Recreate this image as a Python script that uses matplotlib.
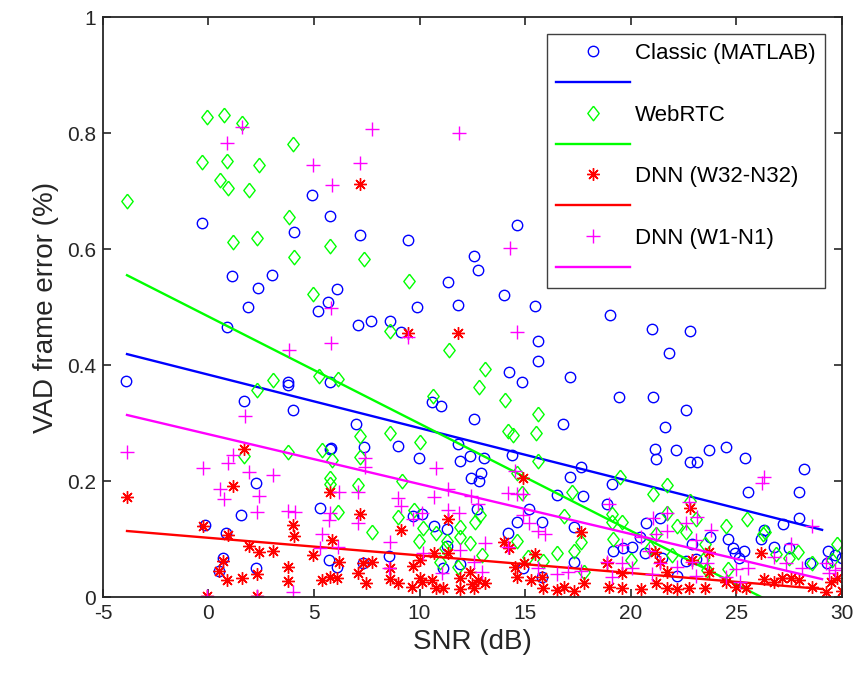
import numpy as np
import matplotlib
matplotlib.use("Agg")
import matplotlib.pyplot as plt

plt.rcParams['font.family'] = ['Liberation Sans', 'DejaVu Sans']
plt.rcParams['axes.unicode_minus'] = False

# --- data (SNR in dB, VAD frame error) ---
classic_snr = [-3.9, -0.3, -0.17, 0.82, 0.68, 0.49, 2.24, 1.53, 2.24, 5.3, 5.74, 5.7, 6.1,
               4.9, 5.74, 4.04, 1.1, 3.0, 2.34, 1.86, 6.07, 5.65, 5.2, 0.87, 3.76, 3.76,
               5.74, 1.67, 3.99, 5.79, 7.16, 9.43, 14.6, 12.6, 12.75, 11.33, 14.0, 15.45,
               9.9, 11.8, 7.1, 7.68, 8.58, 9.1, 15.6, 15.6, 14.26, 14.83, 17.15, 10.6, 11.0,
               12.56, 16.8, 7.0, 7.35, 8.96, 11.8, 19.04, 21.03, 22.83, 21.83, 19.47, 21.08,
               22.64, 21.64, 21.17, 22.17, 23.73, 24.5, 21.2, 22.83, 23.16, 25.4, 28.2,
               25.57, 28.0, 19.1, 18.9, 27.2, 27.98, 21.4, 20.75, 26.3, 26.2, 23.77, 24.6,
               20.46, 20.08, 22.9, 24.86, 26.8, 27.5, 19.18, 19.66, 25.38, 29.36, 29.7,
               30.0, 29.3, 28.5, 24.96, 25.15, 21.5, 22.64, 23.1, 20.7, 22.2, 9.96, 11.9,
               12.37, 13.03, 14.4, 17.67, 17.15, 12.46, 12.9, 12.8, 16.5, 17.76, 15.2, 12.7,
               10.1, 9.67, 14.6, 15.8, 17.3, 10.7, 11.3, 14.2, 11.3, 8.53, 7.3, 11.1, 11.9,
               14.9, 15.8, 17.3]
classic_err = [0.372, 0.645, 0.124, 0.11, 0.067, 0.045, 0.197, 0.141, 0.05, 0.153, 0.255,
               0.064, 0.052, 0.693, 0.657, 0.63, 0.553, 0.555, 0.533, 0.5, 0.531, 0.509,
               0.493, 0.465, 0.371, 0.365, 0.371, 0.338, 0.322, 0.257, 0.624, 0.616, 0.641,
               0.588, 0.564, 0.543, 0.521, 0.502, 0.5, 0.503, 0.469, 0.476, 0.476, 0.457,
               0.441, 0.407, 0.388, 0.371, 0.379, 0.336, 0.329, 0.307, 0.298, 0.298, 0.259,
               0.26, 0.264, 0.486, 0.462, 0.459, 0.421, 0.345, 0.345, 0.322, 0.293, 0.255,
               0.253, 0.253, 0.259, 0.238, 0.233, 0.233, 0.24, 0.221, 0.181, 0.181, 0.195,
               0.16, 0.126, 0.136, 0.136, 0.128, 0.116, 0.1, 0.103, 0.1, 0.104, 0.086,
               0.091, 0.084, 0.086, 0.084, 0.079, 0.084, 0.079, 0.079, 0.072, 0.067, 0.059,
               0.059, 0.076, 0.067, 0.067, 0.062, 0.065, 0.076, 0.036, 0.24, 0.234, 0.243,
               0.24, 0.245, 0.224, 0.207, 0.205, 0.214, 0.2, 0.176, 0.174, 0.152, 0.152,
               0.143, 0.14, 0.129, 0.129, 0.121, 0.122, 0.117, 0.11, 0.088, 0.071, 0.059,
               0.05, 0.057, 0.05, 0.034, 0.06]

webrtc_snr = [-0.08, 0.73, 1.58, 4.0, -0.3, 0.87, 2.38, -3.86, 0.54, 0.92, 1.91, 3.8, 5.74,
              1.15, 2.29, 4.04, 4.94, 2.29, 3.05, 5.22, 6.12, 3.76, 5.36, 1.67, 5.84, 5.74,
              5.74, 6.12, 7.35, 9.48, 8.58, 11.4, 13.08, 12.8, 14.07, 15.59, 10.66, 15.5,
              14.2, 14.45, 7.2, 8.58, 10.0, 7.16, 15.6, 7.07, 9.15, 17.2, 14.6, 14.83, 9.0,
              9.72, 16.86, 12.65, 12.84, 7.73, 10.14, 10.76, 11.9, 9.95, 11.9, 11.28, 12.37,
              14.64, 17.34, 17.67, 16.53, 15.87, 15.16, 12.94, 10.95, 11.8, 17.8, 11.19,
              19.5, 21.74, 21.08, 22.83, 19.1, 19.6, 19.14, 21.7, 22.2, 22.64, 23.1, 24.5,
              25.5, 26.28, 26.37, 19.18, 21.2, 20.03, 20.94, 21.98, 23.54, 26.9, 27.94,
              29.78, 29.55, 28.6, 24.6, 27.5, 23.45, 23.6]
webrtc_err = [0.828, 0.831, 0.817, 0.781, 0.75, 0.752, 0.745, 0.683, 0.72, 0.705, 0.702,
              0.655, 0.605, 0.612, 0.619, 0.586, 0.522, 0.357, 0.374, 0.381, 0.376, 0.25,
              0.253, 0.243, 0.236, 0.205, 0.195, 0.147, 0.583, 0.545, 0.459, 0.426, 0.393,
              0.362, 0.34, 0.316, 0.347, 0.283, 0.286, 0.279, 0.278, 0.283, 0.267, 0.241,
              0.234, 0.193, 0.2, 0.181, 0.214, 0.179, 0.138, 0.15, 0.14, 0.129, 0.141,
              0.112, 0.119, 0.11, 0.121, 0.097, 0.103, 0.097, 0.093, 0.097, 0.079, 0.095,
              0.076, 0.062, 0.069, 0.072, 0.06, 0.052, 0.043, 0.084, 0.207, 0.193, 0.178,
              0.166, 0.143, 0.129, 0.129, 0.145, 0.122, 0.112, 0.134, 0.122, 0.134, 0.109,
              0.112, 0.1, 0.109, 0.064, 0.084, 0.072, 0.091, 0.074, 0.078, 0.091, 0.064,
              0.059, 0.048, 0.067, 0.064, 0.047]

dnn32_snr = [-3.86, 1.67, 1.15, -0.27, 0.92, 1.91, 2.38, 3.05, 0.68, 0.49, 0.87, 1.58, 2.29,
             -0.08, 2.29, 3.76, 3.76, 3.99, 4.04, 4.94, 5.36, 5.74, 5.74, 5.84, 6.17, 6.07,
             9.43, 11.8, 7.16, 7.16, 9.1, 7.3, 7.73, 7.07, 7.45, 8.58, 8.58, 8.96, 9.67,
             10.0, 10.1, 10.6, 10.7, 11.1, 11.33, 11.33, 11.9, 11.9, 12.37, 12.5, 12.6,
             12.75, 13.08, 14.0, 14.26, 14.5, 14.64, 14.88, 14.97, 15.45, 15.26, 15.78,
             15.87, 16.5, 16.86, 17.34, 17.67, 17.77, 10.0, 10.8, 9.62, 22.83, 21.17, 23.73,
             26.2, 22.9, 18.9, 19.6, 18.99, 19.6, 20.5, 21.2, 21.7, 22.2, 22.78, 23.5, 24.5,
             25.0, 25.48, 26.33, 26.8, 27.18, 27.6, 28.0, 28.6, 29.26, 29.5, 29.78, 30.0,
             23.73, 21.4, 21.74]
dnn32_err = [0.172, 0.255, 0.191, 0.122, 0.107, 0.088, 0.078, 0.079, 0.062, 0.045, 0.029,
             0.033, 0.04, 0.002, 0.002, 0.052, 0.028, 0.124, 0.105, 0.072, 0.029, 0.034,
             0.181, 0.098, 0.06, 0.033, 0.455, 0.455, 0.712, 0.143, 0.116, 0.059, 0.06,
             0.041, 0.024, 0.05, 0.031, 0.024, 0.053, 0.033, 0.026, 0.029, 0.076, 0.016,
             0.134, 0.076, 0.033, 0.014, 0.043, 0.022, 0.016, 0.029, 0.024, 0.095, 0.084,
             0.052, 0.034, 0.205, 0.059, 0.074, 0.029, 0.034, 0.016, 0.012, 0.017, 0.01,
             0.112, 0.024, 0.064, 0.016, 0.017, 0.153, 0.078, 0.078, 0.076, 0.064, 0.059,
             0.041, 0.017, 0.016, 0.014, 0.024, 0.016, 0.014, 0.016, 0.016, 0.026, 0.017,
             0.016, 0.031, 0.026, 0.033, 0.033, 0.029, 0.017, 0.009, 0.026, 0.033, 0.01,
             0.043, 0.06, 0.043]

dnn1_snr = [1.58, 0.87, 4.94, 7.73, 11.85, 7.16, 5.84, 14.3, 5.79, 3.8, 5.79, 1.72, 9.43,
            14.64, -3.86, 1.15, 0.92, -0.27, 1.91, 3.05, 2.38, 0.54, 0.73, 2.29, 3.76, 4.09,
            5.74, 5.7, 6.17, 5.36, 5.27, 6.12, 3.99, -0.08, 2.29, 7.4, 7.4, 10.76, 7.1,
            8.96, 9.1, 10.67, 11.33, 12.46, 12.75, 7.07, 9.67, 10.1, 11.33, 11.85, 8.58,
            10.14, 13.08, 11.9, 8.53, 11.05, 12.6, 12.94, 14.5, 14.17, 14.64, 14.88, 14.88,
            15.2, 15.59, 15.92, 14.17, 15.59, 16.5, 17.05, 17.67, 26.33, 26.24, 18.99,
            21.08, 21.74, 22.78, 23.16, 22.64, 21.74, 21.2, 23.8, 28.6, 20.5, 23.1, 27.6,
            19.6, 20.85, 26.8, 27.37, 18.9, 19.6, 20.08, 21.4, 22.2, 22.9, 23.6, 25.0,
            25.57, 28.1, 29.26, 30.0, 19.1, 21.0, 23.1, 24.5, 25.2, 29.4, 29.7]
dnn1_err = [0.81, 0.783, 0.745, 0.807, 0.8, 0.748, 0.71, 0.602, 0.498, 0.426, 0.438, 0.312,
            0.448, 0.457, 0.25, 0.245, 0.231, 0.222, 0.215, 0.21, 0.174, 0.186, 0.169,
            0.147, 0.148, 0.147, 0.145, 0.133, 0.181, 0.109, 0.084, 0.086, 0.009, 0.002,
            0.002, 0.24, 0.224, 0.222, 0.181, 0.171, 0.157, 0.172, 0.186, 0.174, 0.16,
            0.128, 0.134, 0.145, 0.15, 0.145, 0.095, 0.076, 0.093, 0.081, 0.05, 0.041,
            0.06, 0.043, 0.217, 0.179, 0.178, 0.178, 0.141, 0.128, 0.114, 0.109, 0.086,
            0.05, 0.04, 0.043, 0.045, 0.207, 0.197, 0.16, 0.136, 0.145, 0.164, 0.138,
            0.128, 0.114, 0.109, 0.116, 0.122, 0.103, 0.098, 0.091, 0.09, 0.079, 0.069,
            0.059, 0.06, 0.059, 0.05, 0.059, 0.052, 0.06, 0.059, 0.048, 0.05, 0.05, 0.059,
            0.05, 0.034, 0.04, 0.036, 0.034, 0.026, 0.041, 0.047]

# linear fit lines (end points)
fit_snr = [-3.86, 29.07]
classic_fit = [0.419, 0.116]
webrtc_fit = [0.555, -0.053]
dnn32_fit = [0.114, 0.014]
dnn1_fit = [0.314, 0.031]

labels = ['Classic (MATLAB)', 'WebRTC', 'DNN (W32-N32)', 'DNN (W1-N1)']

diamond = [(0, 1), (0.78, 0), (0, -1), (-0.78, 0), (0, 1)]
series = [
    (classic_snr, classic_err, classic_fit, 'blue', dict(marker='o', markersize=7.5)),
    (webrtc_snr, webrtc_err, webrtc_fit, '#00ff00', dict(marker=diamond, markersize=10.5)),
    (dnn32_snr, dnn32_err, dnn32_fit, 'red', dict(marker=(8, 2, 0), markersize=9)),
    (dnn1_snr, dnn1_err, dnn1_fit, 'magenta', dict(marker='+', markersize=9.5)),
]

fig = plt.figure(figsize=(8.58, 6.84), dpi=100)
ax = fig.add_axes([0.12, 0.127, 0.861, 0.848])

handles = []
leg_labels = []
for (x, y, fit, col, mk), lab in zip(series, labels):
    h1, = ax.plot(x, y, linestyle='none', color=col, markerfacecolor='none',
                  markeredgecolor=col, markeredgewidth=1.0, **mk)
    h2, = ax.plot(fit_snr, fit, color=col, linewidth=1.7)
    handles += [h1, h2]
    leg_labels += [lab, '']

ax.set_xlim(-5, 30)
ax.set_ylim(0, 1)
ax.set_xticks(np.arange(-5, 31, 5))
ax.set_yticks([0, 0.2, 0.4, 0.6, 0.8, 1])
ax.set_yticklabels(['0', '0.2', '0.4', '0.6', '0.8', '1'])
ax.tick_params(direction='in', length=6, width=1.2, top=True, right=True,
               labelsize=15, colors='#262626', pad=5)
for sp in ax.spines.values():
    sp.set_linewidth(1.3)
    sp.set_color('#262626')

ax.set_xlabel('SNR (dB)', fontsize=20, color='#262626', labelpad=4)
ax.set_ylabel('VAD frame error (%)', fontsize=20, color='#262626', labelpad=6)

leg = ax.legend(handles, leg_labels, loc='upper right', fontsize=16,
                handlelength=3.35, handletextpad=0.22, labelspacing=0.44,
                borderpad=0.4, borderaxespad=0.77, fancybox=False, framealpha=1,
                edgecolor='#404040')
leg.get_frame().set_linewidth(1.0)

fig.savefig('out.png', dpi=100)
